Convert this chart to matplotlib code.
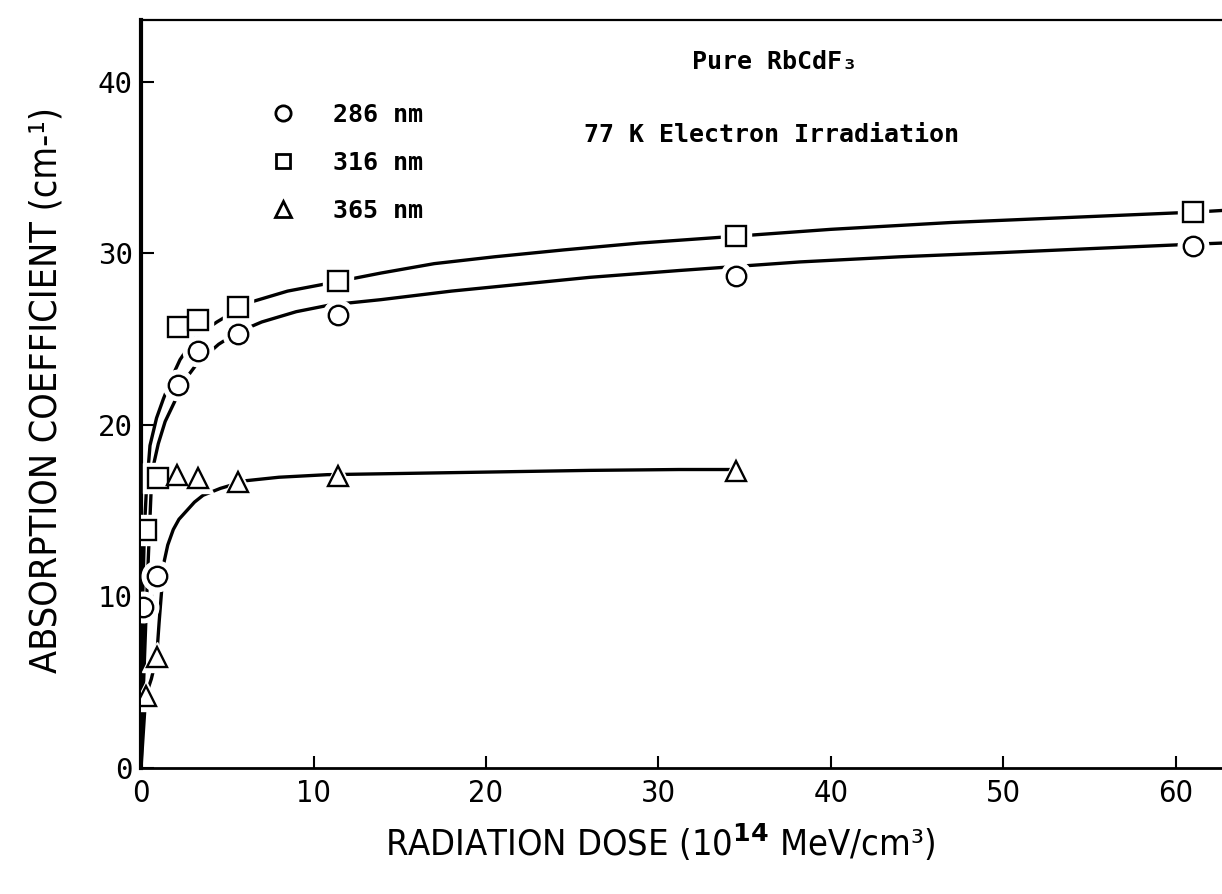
import matplotlib.pyplot as plt
from matplotlib.lines import Line2D
from matplotlib import font_manager

# measured points
dose_286 = [0.1, 0.9, 2.15, 3.3, 5.6, 11.4, 34.5, 61.0]
abs_286 = [9.4, 11.2, 22.3, 24.3, 25.3, 26.4, 28.7, 30.4]

dose_316 = [0.27, 0.97, 2.15, 3.3, 5.6, 11.4, 34.5, 61.0]
abs_316 = [13.9, 16.9, 25.7, 26.1, 26.9, 28.4, 31.0, 32.4]

dose_365 = [0.27, 0.91, 2.1, 3.3, 5.6, 11.4, 34.5]
abs_365 = [4.2, 6.5, 17.1, 16.9, 16.7, 17.0, 17.3]

# hand drawn fit curves
fit_x_286 = [0, 0.15, 0.35, 0.62, 0.71, 1.0, 1.4, 1.97, 2.6, 3.27, 4.5, 5.6, 7.0, 9.0, 11.0, 13.9,
             18.0, 22.0, 26.0, 31.2, 38.2, 44.0, 50.0, 55.6, 60.2, 62.7]
fit_y_286 = [0, 5.0, 10.5, 17.0, 17.6, 18.9, 20.2, 21.4, 22.7, 23.6, 24.7, 25.4, 26.0, 26.6, 27.0, 27.3,
             27.8, 28.2, 28.6, 29.0, 29.5, 29.8, 30.05, 30.3, 30.5, 30.6]

fit_x_316 = [0, 0.05, 0.1, 0.2, 0.3, 0.52, 0.9, 1.29, 1.8, 2.26, 2.8, 3.23, 4.4, 5.4, 6.5, 8.5, 10.6,
             13.9, 17.0, 20.5, 24.5, 28.9, 34.5, 40.0, 47.0, 54.0, 61.0, 62.7]
fit_y_316 = [0, 5.0, 10.0, 14.0, 16.0, 18.8, 20.4, 21.5, 22.8, 23.8, 24.6, 25.2, 26.0, 26.6, 27.2, 27.8, 28.2,
             28.85, 29.4, 29.8, 30.2, 30.6, 31.0, 31.4, 31.8, 32.1, 32.4, 32.5]

fit_x_365 = [0, 0.27, 0.6, 0.91, 1.05, 1.2, 1.29, 1.55, 1.87, 2.2, 2.65, 3.1, 3.6, 4.6, 5.6, 6.1, 8.0,
             10.8, 13.9, 20.0, 26.0, 31.2, 34.5]
fit_y_365 = [0, 4.2, 5.2, 6.5, 8.5, 10.4, 11.8, 13.0, 13.9, 14.5, 15.0, 15.5, 15.9, 16.3, 16.6, 16.75, 16.95,
             17.1, 17.15, 17.25, 17.35, 17.4, 17.4]

x_ticks = [0, 10, 20, 30, 40, 50, 60]
y_ticks = [0, 10, 20, 30, 40]

narrow = font_manager.FontProperties(family='DejaVu Sans', stretch='condensed', size=22)

fig = plt.figure(figsize=(12.22, 8.94), dpi=100)
ax = fig.add_axes([0.1154, 0.1409, 0.8846, 0.8367])

lw = 2.4
ms = 14
for fx, fy in [(fit_x_286, fit_y_286), (fit_x_316, fit_y_316), (fit_x_365, fit_y_365)]:
    ax.plot(fx, fy, color='black', lw=lw, solid_capstyle='round', solid_joinstyle='round', zorder=2)

# white halo so the lines break around the symbols
for x, y, m in [(dose_286, abs_286, 'o'), (dose_316, abs_316, 's'), (dose_365, abs_365, '^')]:
    ax.plot(x, y, ls='none', marker=m, ms=ms + 8, mfc='white', mec='white', zorder=3)
    ax.plot(x, y, ls='none', marker=m, ms=ms, mfc='white', mec='black', mew=1.7, zorder=4)

ax.set_xlim(0, 62.67)
ax.set_ylim(0, 43.6)
ax.set_xticks(x_ticks)
ax.set_yticks(y_ticks)
ax.tick_params(axis='both', direction='in', length=9, width=1.5, color='black')
ax.tick_params(axis='x', pad=8)
ax.tick_params(axis='y', pad=6)
for lab in ax.get_xticklabels():
    lab.set_fontproperties(narrow)
for lab in ax.get_yticklabels():
    lab.set_family('DejaVu Sans Mono')
    lab.set_fontsize(21)

ax.spines['right'].set_visible(False)
ax.spines['left'].set_linewidth(3)
ax.spines['bottom'].set_linewidth(2)
ax.spines['top'].set_linewidth(1.6)

xlabel_font = font_manager.FontProperties(family='DejaVu Sans', stretch='condensed', size=26)
ylabel_font = font_manager.FontProperties(family='DejaVu Sans', stretch='condensed', size=27)
ax.set_xlabel('RADIATION DOSE (10$^{\\mathbf{14}}$ MeV/cm³)', fontproperties=xlabel_font, labelpad=10)
ax.set_ylabel('ABSORPTION COEFFICIENT (cm-¹)', fontproperties=ylabel_font, labelpad=24)
ax.xaxis.label.set_x(0.48)
ax.yaxis.label.set_y(0.505)

mono = dict(family='DejaVu Sans Mono', fontweight='bold', fontsize=18)
ax.text(0.51, 0.944, 'Pure RbCdF₃', transform=ax.transAxes, va='center', ha='left', **mono)
ax.text(0.41, 0.846, '77 K Electron Irradiation', transform=ax.transAxes, va='center', ha='left', **mono)

handles = [Line2D([], [], ls='none', marker='o', ms=11, mfc='white', mec='black', mew=2),
           Line2D([], [], ls='none', marker='s', ms=10, mfc='white', mec='black', mew=2),
           Line2D([], [], ls='none', marker='^', ms=11, mfc='white', mec='black', mew=2)]
leg = ax.legend(handles, ['286 nm', '316 nm', '365 nm'], loc='upper left',
                bbox_to_anchor=(0.12, 0.889), frameon=False, handlelength=1.0,
                handletextpad=1.5, labelspacing=0.95, borderaxespad=0, borderpad=0,
                prop=dict(family='DejaVu Sans Mono', weight='bold', size=18))

fig.savefig('out.png', dpi=100)
